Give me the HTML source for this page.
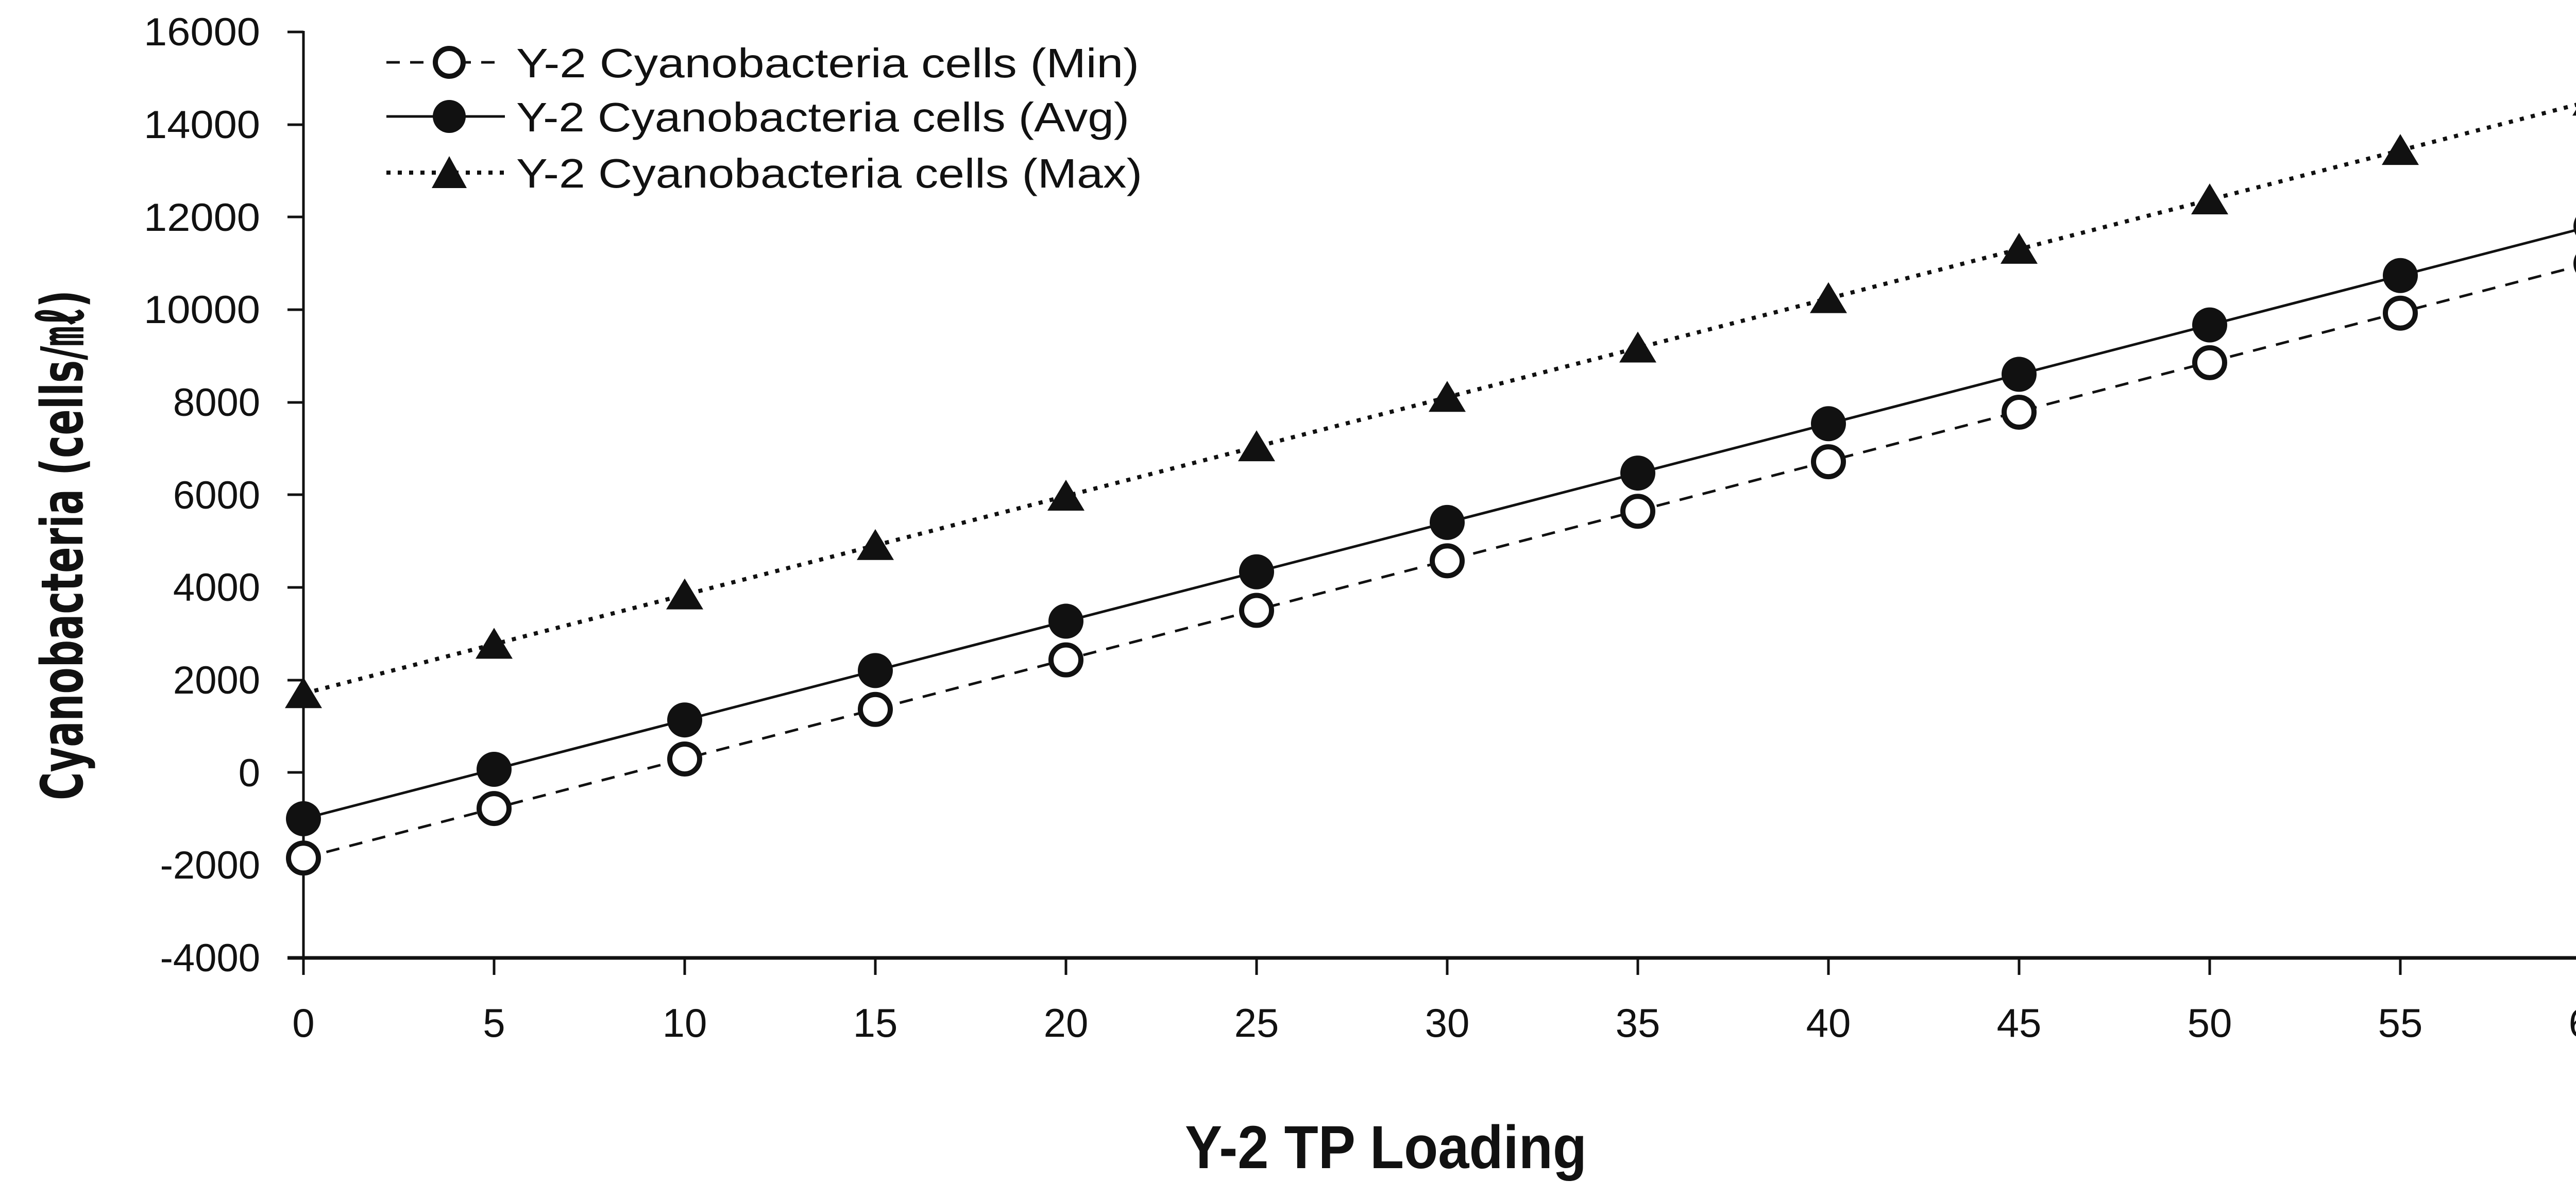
<!DOCTYPE html>
<html><head><meta charset="utf-8"><style>html,body{margin:0;padding:0;background:#fff;overflow:hidden;width:5103px;height:2323px;}svg{display:block;}</style></head>
<body>
<svg xmlns="http://www.w3.org/2000/svg" width="5103" height="2323" viewBox="0 0 5103 2323">
<rect width="5103" height="2323" fill="#fff"/>
<g font-family="'Liberation Sans', sans-serif" fill="#111">
<g font-size="76" text-anchor="end">
<text x="505" y="88" textLength="226" lengthAdjust="spacingAndGlyphs">16000</text>
<text x="505" y="268" textLength="226" lengthAdjust="spacingAndGlyphs">14000</text>
<text x="505" y="448" textLength="226" lengthAdjust="spacingAndGlyphs">12000</text>
<text x="505" y="627" textLength="226" lengthAdjust="spacingAndGlyphs">10000</text>
<text x="505" y="807">8000</text>
<text x="505" y="987">6000</text>
<text x="505" y="1166">4000</text>
<text x="505" y="1346">2000</text>
<text x="505" y="1526">0</text>
<text x="505" y="1705">-2000</text>
<text x="505" y="1885">-4000</text>
</g>
<g font-size="78" text-anchor="middle">
<text x="589" y="2012">0</text><text x="959" y="2012">5</text><text x="1329" y="2012">10</text>
<text x="1699" y="2012">15</text><text x="2069" y="2012">20</text><text x="2439" y="2012">25</text>
<text x="2809" y="2012">30</text><text x="3179" y="2012">35</text><text x="3549" y="2012">40</text>
<text x="3919" y="2012">45</text><text x="4289" y="2012">50</text><text x="4659" y="2012">55</text>
<text x="5029" y="2012">60</text>
</g>
<text x="2300" y="2267" font-size="118" font-weight="bold" textLength="780" lengthAdjust="spacingAndGlyphs">Y-2 TP Loading</text>
<text transform="translate(160,1553) rotate(-90)" font-family="'DejaVu Sans', sans-serif" font-size="112" font-weight="bold" textLength="990" lengthAdjust="spacingAndGlyphs">Cyanobacteria (cells/㎖)</text>
<g font-size="80">
<text x="1002" y="150" textLength="1209" lengthAdjust="spacingAndGlyphs">Y-2 Cyanobacteria cells (Min)</text>
<text x="1002" y="255" textLength="1190" lengthAdjust="spacingAndGlyphs">Y-2 Cyanobacteria cells (Avg)</text>
<text x="1002" y="364" textLength="1215" lengthAdjust="spacingAndGlyphs">Y-2 Cyanobacteria cells (Max)</text>
</g>
</g>
<g stroke="#111" fill="none">
<line x1="589" y1="60" x2="589" y2="1862" stroke-width="5"/>
<line x1="558" y1="1859" x2="5032" y2="1859" stroke-width="7"/>
<path stroke-width="5" d="M558 62H589M558 242H589M558 421H589M558 601H589M558 781H589M558 960H589M558 1140H589M558 1320H589M558 1499H589M558 1679H589"/>
<path stroke-width="5" d="M589 1859V1892M959 1859V1892M1329 1859V1892M1699 1859V1892M2069 1859V1892M2439 1859V1892M2809 1859V1892M3179 1859V1892M3549 1859V1892M3919 1859V1892M4289 1859V1892M4659 1859V1892M5029 1859V1892"/>
</g>
<g stroke="#111" fill="none">
<line x1="589" y1="1346" x2="5029" y2="196" stroke-width="8" stroke-dasharray="8 14"/>
<line x1="589" y1="1589" x2="5029" y2="439" stroke-width="5"/>
<line x1="589" y1="1665" x2="5029" y2="510" stroke-width="5" stroke-dasharray="26 20"/>
<line x1="750" y1="121" x2="980" y2="121" stroke-width="5" stroke-dasharray="26 20"/>
<line x1="750" y1="226" x2="980" y2="226" stroke-width="5"/>
<line x1="750" y1="335" x2="980" y2="335" stroke-width="8" stroke-dasharray="8 14"/>
</g>
<g id="m"></g>
<script>
(function(){
var g=document.getElementById('m'),ns='http://www.w3.org/2000/svg';
function Y(v){return 1499-v*0.08985;}
for(var i=0;i<=12;i++){
 var t=i*5,x=589+t*74;
 var ymax=Y(1700+213.3*t), yavg=Y(-1000+213.3*t), ymin=Y(-1850+214*t);
 var p=document.createElementNS(ns,'path');
 p.setAttribute('d','M'+(x-36)+' '+(ymax+28)+'L'+x+' '+(ymax-32)+'L'+(x+36)+' '+(ymax+28)+'Z');
 p.setAttribute('fill','#111');g.appendChild(p);
 var c=document.createElementNS(ns,'circle');
 c.setAttribute('cx',x);c.setAttribute('cy',yavg);c.setAttribute('r',34);c.setAttribute('fill','#111');g.appendChild(c);
 var o=document.createElementNS(ns,'circle');
 o.setAttribute('cx',x);o.setAttribute('cy',ymin);o.setAttribute('r',29);o.setAttribute('fill','#fff');o.setAttribute('stroke','#111');o.setAttribute('stroke-width',10);g.appendChild(o);
}
var L=[[121,'o'],[226,'c'],[335,'t']];
L.forEach(function(a){var x=872,y=a[0],e;
 if(a[1]=='t'){e=document.createElementNS(ns,'path');e.setAttribute('d','M'+(x-34)+' '+(y+30)+'L'+x+' '+(y-32)+'L'+(x+34)+' '+(y+30)+'Z');e.setAttribute('fill','#111');}
 else{e=document.createElementNS(ns,'circle');e.setAttribute('cx',x);e.setAttribute('cy',y);
  if(a[1]=='c'){e.setAttribute('r',32);e.setAttribute('fill','#111');}
  else{e.setAttribute('r',27);e.setAttribute('fill','#fff');e.setAttribute('stroke','#111');e.setAttribute('stroke-width',10);}}
 g.appendChild(e);});
})();
</script>
</svg>
</body></html>
